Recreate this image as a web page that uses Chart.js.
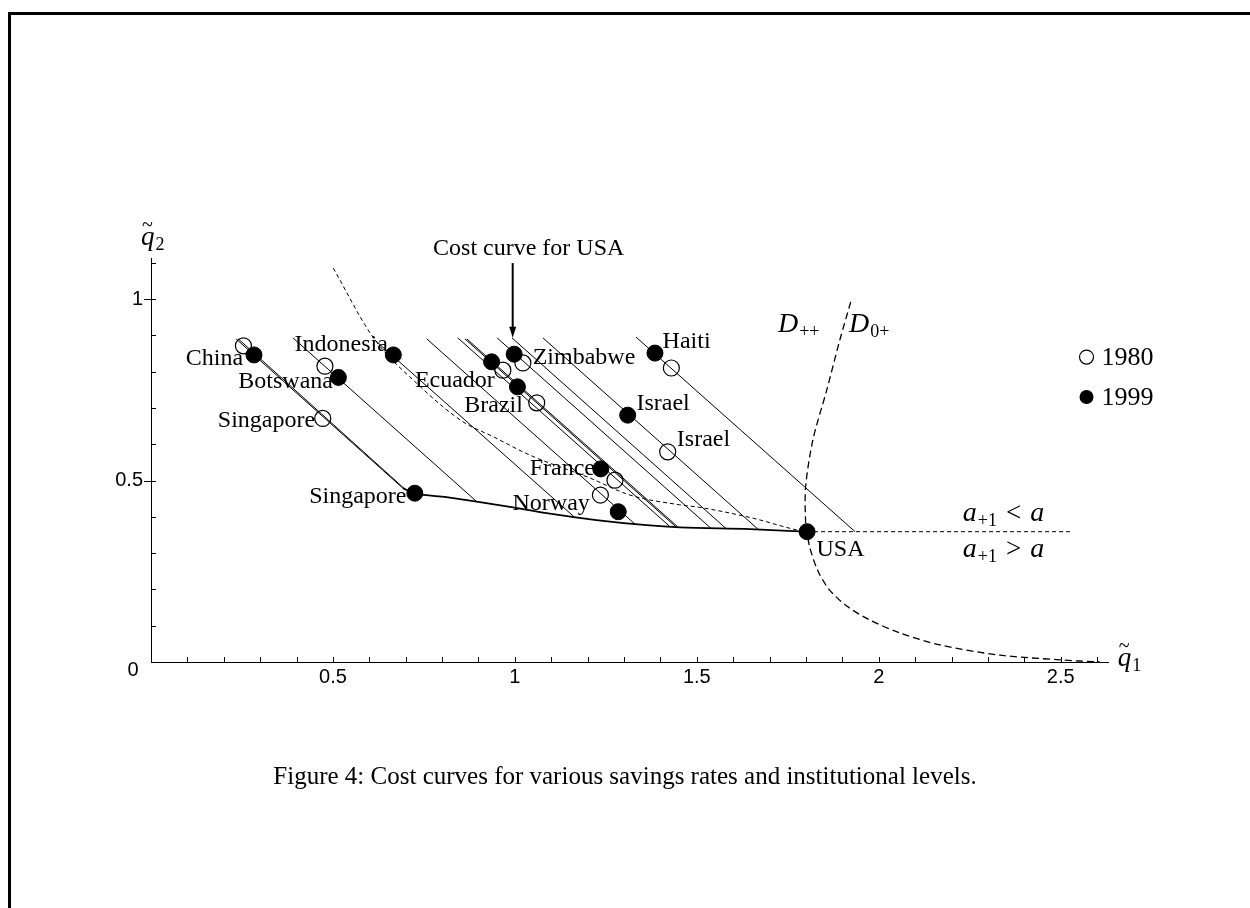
<!DOCTYPE html>
<html lang="en">
<head>
<meta charset="UTF-8">
<title>Cost curves</title>
<script src="https://cdn.jsdelivr.net/npm/chart.js"></script>
<style>
    html, body { margin: 0; padding: 0; background: #fff; }
    #page { position: relative; width: 1250px; height: 908px; overflow: hidden; }
    #frame { position: absolute; left: 8px; top: 12px; right: -10px; bottom: -10px;
             border-left: 3px solid #000; border-top: 3px solid #000; }
    #plotBox { position: absolute; left: 0; top: 0; width: 1250px; height: 908px; }
    #caption { position: absolute; left: 0; width: 1250px; top: 762px; text-align: center;
               font: 25px "Liberation Serif", serif; color: #000; }
</style>
</head>
<body>
<div id="page">
    <div id="frame"></div>
    <div id="plotBox"><canvas id="costChart"></canvas></div>
    <div id="caption">Figure 4: Cost curves for various savings rates and institutional levels.</div>
</div>

<script>
// axis ticks
const xTickValues = [0.5, 1, 1.5, 2, 2.5];
const xTickLabels = ["0.5", "1", "1.5", "2", "2.5"];
const yTickValues = [0.5, 1];
const yTickLabels = ["0.5", "1"];

// 1980 points (open circles)
const countries1980 = ["China", "Botswana", "Singapore", "Ecuador", "Zimbabwe", "Brazil", "Haiti", "Israel", "France", "Norway"];
const q1_1980 = [0.254, 0.478, 0.472, 0.967, 1.022, 1.060, 1.430, 1.420, 1.275, 1.235];
const q2_1980 = [0.871, 0.815, 0.671, 0.804, 0.824, 0.714, 0.810, 0.579, 0.501, 0.460];

// 1999 points (filled circles)
const countries1999 = ["China", "Botswana", "Indonesia", "Singapore", "Ecuador", "Zimbabwe", "Brazil", "Haiti", "Israel", "France", "Norway", "USA"];
const q1_1999 = [0.283, 0.515, 0.666, 0.725, 0.936, 0.998, 1.007, 1.385, 1.310, 1.236, 1.284, 1.803];
const q2_1999 = [0.846, 0.784, 0.846, 0.465, 0.827, 0.848, 0.758, 0.851, 0.680, 0.532, 0.414, 0.359];

// straight parts of the cost curves (start -> where they meet the common lower part)
const costStartQ1 = [0.234, 0.240, 0.390, 0.615, 0.758, 0.843, 0.863, 0.868, 0.951, 0.992, 1.077, 1.333];
const costStartQ2 = [0.890, 0.890, 0.893, 0.887, 0.890, 0.893, 0.890, 0.890, 0.893, 0.893, 0.893, 0.895];
const costEndQ1   = [0.692, 0.697, 0.895, 1.165, 1.330, 1.425, 1.443, 1.448, 1.538, 1.580, 1.669, 1.935];
const costEndQ2   = [0.479, 0.477, 0.442, 0.398, 0.380, 0.374, 0.372, 0.372, 0.369, 0.368, 0.365, 0.359];

// common lower part of the cost curves, ending at USA
const envQ1 = [0.692, 0.725, 0.812, 0.895, 0.995, 1.087, 1.224, 1.362, 1.453, 1.646, 1.803];
const envQ2 = [0.479, 0.465, 0.454, 0.442, 0.426, 0.410, 0.391, 0.377, 0.371, 0.366, 0.359];

// thin dashed curve through USA
const dashQ1 = [0.501, 0.610, 0.730, 0.857, 0.940, 1.041, 1.206, 1.316, 1.453, 1.508, 1.655, 1.774, 1.803];
const dashQ2 = [1.085, 0.895, 0.768, 0.662, 0.621, 0.570, 0.507, 0.460, 0.433, 0.426, 0.396, 0.364, 0.359];

// D++ / D0+ boundary
const bndQ1 = [1.923, 1.893, 1.857, 1.819, 1.799, 1.799, 1.803, 1.810, 1.832, 1.865, 1.915, 1.975, 2.058, 2.168, 2.332, 2.497, 2.607];
const bndQ2 = [0.992, 0.887, 0.749, 0.612, 0.482, 0.383, 0.359, 0.317, 0.253, 0.198, 0.152, 0.116, 0.080, 0.047, 0.019, 0.006, 0.000];

// a_{+1} = a line
const flatQ1 = [1.803, 2.533];
const flatQ2 = [0.359, 0.359];

// text labels: text, anchor q1, q2, alignment
const labelText  = ["China", "Indonesia", "Botswana", "Singapore", "Singapore", "Ecuador", "Brazil", "Zimbabwe", "Haiti", "Israel", "Israel", "France", "Norway", "USA", "Cost curve for USA"];
const labelQ1    = [0.253, 0.651, 0.500, 0.451, 0.702, 0.945, 1.022, 1.049, 1.406, 1.334, 1.445, 1.220, 1.206, 1.829, 1.038];
const labelQ2    = [0.835, 0.873, 0.773, 0.665, 0.455, 0.775, 0.705, 0.839, 0.882, 0.711, 0.612, 0.533, 0.437, 0.309, 1.138];
const labelAlign = ["right", "right", "right", "right", "right", "right", "right", "left", "left", "left", "left", "right", "right", "left", "center"];

function pts(a, b) {
    return a.map((v, i) => ({ x: v, y: b[i] }));
}

const SERIF = '"Liberation Serif", "Times New Roman", serif';
const SANS = '"Liberation Sans", Arial, sans-serif';

// draws a sequence of text pieces left to right: [text, font, dy, gapAfter]
function drawPieces(ctx, x, y, pieces) {
    ctx.textAlign = "left";
    ctx.textBaseline = "alphabetic";
    pieces.forEach(p => {
        ctx.font = p[1];
        ctx.fillText(p[0], x, y + (p[2] || 0));
        x += ctx.measureText(p[0]).width + (p[3] || 0);
    });
}

const overlay = {
    id: "overlay",
    afterDraw(chart) {
        const ctx = chart.ctx;
        const xs = chart.scales.x, ys = chart.scales.y;
        const X = v => xs.getPixelForValue(v);
        const Y = v => ys.getPixelForValue(v);
        const x0 = X(0), y0 = Y(0);
        ctx.save();
        ctx.strokeStyle = "#000";
        ctx.fillStyle = "#000";
        ctx.lineWidth = 1;

        // tick marks
        ctx.beginPath();
        for (let i = 1; i <= 26; i++) {
            const px = Math.round(X(i / 10)) + 0.5;
            ctx.moveTo(px, y0);
            ctx.lineTo(px, y0 - 5);
        }
        for (let i = 1; i <= 11; i++) {
            const py = Math.round(Y(i / 10)) + 0.5;
            ctx.moveTo(x0, py);
            ctx.lineTo(x0 + 5, py);
        }
        yTickValues.forEach(v => {
            const py = Math.round(Y(v)) + 0.5;
            ctx.moveTo(x0 - 7, py);
            ctx.lineTo(x0, py);
        });
        ctx.stroke();

        // tick labels
        ctx.font = "20px " + SANS;
        ctx.textAlign = "center";
        ctx.textBaseline = "top";
        xTickValues.forEach((v, i) => ctx.fillText(xTickLabels[i], X(v), y0 + 5));
        ctx.fillText("0", x0 - 18, y0 - 2);
        ctx.textAlign = "right";
        ctx.textBaseline = "middle";
        yTickValues.forEach((v, i) => ctx.fillText(yTickLabels[i], x0 - 8, Y(v)));

        // country labels
        ctx.font = "24px " + SERIF;
        ctx.textBaseline = "middle";
        labelText.forEach((t, i) => {
            ctx.textAlign = labelAlign[i];
            ctx.fillText(t, X(labelQ1[i]), Y(labelQ2[i]));
        });

        // arrow to the USA cost curve
        const ax = X(0.994), ay1 = Y(1.099), ay2 = Y(0.893);
        ctx.lineWidth = 2;
        ctx.beginPath();
        ctx.moveTo(ax, ay1);
        ctx.lineTo(ax, ay2 - 8);
        ctx.stroke();
        ctx.beginPath();
        ctx.moveTo(ax, ay2);
        ctx.lineTo(ax - 3.5, ay2 - 11);
        ctx.lineTo(ax + 3.5, ay2 - 11);
        ctx.closePath();
        ctx.fill();

        // axis names
        const it = "italic 27px " + SERIF;
        const sub = "18px " + SERIF;
        drawPieces(ctx, x0 - 10, Y(1.15), [["q", it, 0, 1], ["2", sub, 5]]);
        ctx.font = "20px " + SERIF;
        ctx.fillText("~", x0 - 9, Y(1.15) - 14);
        drawPieces(ctx, X(2.657), y0 + 4, [["q", it, 0, 1], ["1", sub, 5]]);
        ctx.font = "20px " + SERIF;
        ctx.fillText("~", X(2.657) + 1, y0 - 10);

        // region names
        const itD = "italic 28px " + SERIF;
        drawPieces(ctx, X(1.723), Y(0.910), [["D", itD, 0, 1], ["++", sub, 5]]);
        drawPieces(ctx, X(1.918), Y(0.910), [["D", itD, 0, 1], ["0+", sub, 5]]);
        const itA = "italic 28px " + SERIF;
        const rel = "27px " + SERIF;
        drawPieces(ctx, X(2.231), Y(0.388), [["a", itA, 0, 1], ["+1", sub, 5, 9], ["<", rel, 0, 9], ["a", itA]]);
        drawPieces(ctx, X(2.231), Y(0.288), [["a", itA, 0, 1], ["+1", sub, 5, 9], [">", rel, 0, 9], ["a", itA]]);

        // legend
        const lx = X(2.571);
        [[0.840, "1980", false], [0.730, "1999", true]].forEach(r => {
            const ly = Y(r[0]);
            ctx.lineWidth = 1.2;
            ctx.beginPath();
            ctx.arc(lx, ly, 7, 0, Math.PI * 2);
            if (r[2]) ctx.fill(); else ctx.stroke();
            ctx.font = "26px " + SERIF;
            ctx.textAlign = "left";
            ctx.textBaseline = "middle";
            ctx.fillText(r[1], lx + 15, ly + 1);
        });
        ctx.restore();
    }
};

const lineSets = costStartQ1.map((v, i) => ({
    data: [{ x: v, y: costStartQ2[i] }, { x: costEndQ1[i], y: costEndQ2[i] }],
    showLine: true, borderColor: "#000", borderWidth: 1, pointRadius: 0, clip: false
}));

const datasets = [
    { data: pts(q1_1999, q2_1999), pointRadius: 8, pointBackgroundColor: "#000", pointBorderColor: "#000", showLine: false, clip: false },
    { data: pts(q1_1980, q2_1980), pointRadius: 8, pointBackgroundColor: "rgba(0,0,0,0)", pointBorderColor: "#000", pointBorderWidth: 1.2, showLine: false, clip: false },
    { data: pts(envQ1, envQ2), showLine: true, borderColor: "#000", borderWidth: 1.8, pointRadius: 0, cubicInterpolationMode: "monotone", clip: false },
    { data: pts(dashQ1, dashQ2), showLine: true, borderColor: "#000", borderWidth: 1, borderDash: [4, 3], pointRadius: 0, cubicInterpolationMode: "monotone", clip: false },
    { data: pts(bndQ1, bndQ2), showLine: true, borderColor: "#000", borderWidth: 1.3, borderDash: [7, 4], pointRadius: 0, tension: 0.3, clip: false },
    { data: pts(flatQ1, flatQ2), showLine: true, borderColor: "#000", borderWidth: 1, borderDash: [4, 3], pointRadius: 0, clip: false }
].concat(lineSets);

new Chart(document.getElementById("costChart").getContext("2d"), {
    type: "scatter",
    data: { datasets: datasets },
    options: {
        responsive: true,
        maintainAspectRatio: false,
        animation: false,
        events: [],
        layout: { padding: { left: 151, right: 142, top: 258, bottom: 246 } },
        plugins: { legend: { display: false }, tooltip: { enabled: false } },
        scales: {
            x: {
                type: "linear", min: 0, max: 2.63,
                grid: { display: false, drawTicks: false },
                border: { display: true, color: "#000", width: 1 },
                ticks: { display: false, stepSize: 0.1 }
            },
            y: {
                type: "linear", min: 0, max: 1.113,
                grid: { display: false, drawTicks: false },
                border: { display: true, color: "#000", width: 1 },
                ticks: { display: false, stepSize: 0.1 }
            }
        }
    },
    plugins: [overlay]
});
</script>
</body>
</html>
